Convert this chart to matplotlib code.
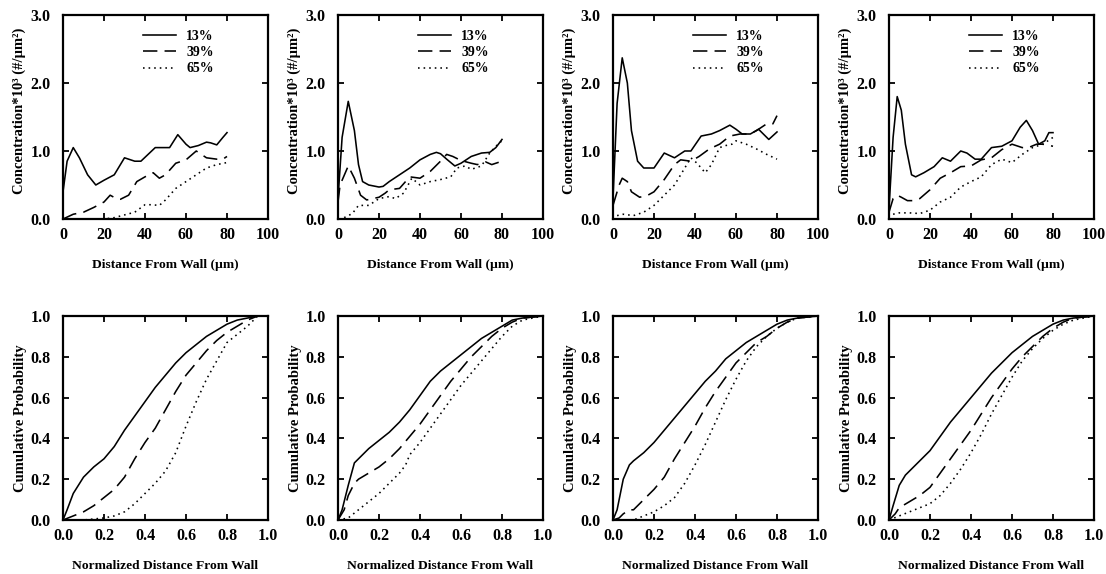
import matplotlib
matplotlib.use("Agg")
import matplotlib.pyplot as plt

plt.rcParams['font.family'] = ['Liberation Serif', 'DejaVu Serif']
plt.rcParams['font.weight'] = 'bold'

labels = ['13%', '39%', '65%']

# ---- concentration profiles (distance um, concentration*10^3) ----
c1_x13 = [0, 2, 5, 8, 12, 16, 20, 25, 30, 35, 38, 45, 52, 56, 60, 62, 66, 70, 72, 75, 78, 80]
c1_y13 = [0.4, 0.85, 1.05, 0.9, 0.65, 0.5, 0.57, 0.65, 0.9, 0.85, 0.85, 1.05, 1.05, 1.24, 1.1, 1.05, 1.08, 1.13, 1.12, 1.09, 1.2, 1.27]
c1_x39 = [0, 5, 10, 15, 20, 23, 26, 28, 32, 36, 40, 44, 47, 50, 55, 60, 65, 70, 75, 78, 80]
c1_y39 = [0, 0.07, 0.1, 0.17, 0.25, 0.35, 0.3, 0.29, 0.35, 0.55, 0.62, 0.68, 0.6, 0.65, 0.82, 0.87, 1.0, 0.9, 0.88, 0.88, 0.92]
c1_x65 = [0, 10, 20, 25, 30, 35, 40, 43, 47, 50, 55, 60, 65, 70, 75, 80]
c1_y65 = [0, 0, 0, 0.02, 0.06, 0.1, 0.21, 0.21, 0.2, 0.28, 0.45, 0.55, 0.65, 0.75, 0.8, 0.83]

c2_x13 = [0, 2, 5, 8, 10, 12, 15, 20, 22, 25, 30, 35, 40, 45, 48, 50, 53, 57, 60, 65, 70, 74, 77, 80]
c2_y13 = [0.3, 1.2, 1.73, 1.3, 0.8, 0.55, 0.5, 0.47, 0.48, 0.55, 0.65, 0.75, 0.87, 0.95, 0.98, 0.96, 0.88, 0.78, 0.82, 0.92, 0.97, 0.98, 1.05, 1.17]
c2_x39 = [0, 1, 5, 8, 11, 14, 20, 23, 25, 30, 35, 40, 45, 50, 53, 56, 60, 65, 68, 72, 75, 80]
c2_y39 = [0.25, 0.5, 0.78, 0.6, 0.35, 0.28, 0.32, 0.38, 0.43, 0.45, 0.62, 0.6, 0.7, 0.85, 0.95, 0.92, 0.86, 0.82, 0.8, 0.84, 0.8, 0.85]
c2_x65 = [3, 7, 10, 15, 20, 25, 28, 32, 36, 40, 45, 50, 55, 58, 62, 65, 70, 74, 78, 80]
c2_y65 = [0.02, 0.08, 0.2, 0.2, 0.3, 0.33, 0.3, 0.38, 0.6, 0.5, 0.55, 0.58, 0.62, 0.75, 0.78, 0.73, 0.78, 0.97, 1.1, 1.15]

c3_x13 = [0, 2, 4.5, 7, 9, 12, 15, 20, 25, 30, 35, 38, 43, 48, 52, 57, 60, 63, 67, 71, 76, 80]
c3_y13 = [0.3, 1.7, 2.37, 2.0, 1.3, 0.85, 0.75, 0.75, 0.97, 0.9, 1.0, 1.0, 1.22, 1.25, 1.3, 1.38, 1.32, 1.25, 1.25, 1.32, 1.17, 1.28]
c3_x39 = [0, 3, 4.5, 7, 9, 13, 17, 20, 25, 30, 33, 38, 42, 47, 52, 57, 62, 67, 70, 75, 78, 80]
c3_y39 = [0.2, 0.5, 0.6, 0.55, 0.4, 0.32, 0.35, 0.4, 0.58, 0.8, 0.87, 0.85, 0.92, 1.03, 1.1, 1.22, 1.25, 1.25, 1.3, 1.4, 1.4, 1.52]
c3_x65 = [2, 5, 10, 15, 20, 25, 30, 35, 38, 41, 45, 48, 52, 55, 58, 60, 65, 70, 75, 80]
c3_y65 = [0.05, 0.07, 0.05, 0.1, 0.2, 0.35, 0.5, 0.75, 0.9, 0.82, 0.68, 0.8, 1.05, 1.08, 1.1, 1.15, 1.1, 1.03, 0.95, 0.88]

c4_x13 = [0, 2, 4, 6, 8, 11, 13, 17, 22, 26, 30, 35, 38, 42, 45, 50, 55, 60, 64, 67, 70, 73, 76, 78, 80]
c4_y13 = [0.15, 1.2, 1.8, 1.6, 1.1, 0.65, 0.62, 0.68, 0.77, 0.9, 0.85, 1.0, 0.97, 0.88, 0.88, 1.05, 1.07, 1.15, 1.35, 1.45, 1.3, 1.1, 1.15, 1.27, 1.27]
c4_x39 = [0, 2, 4, 6, 9, 12, 15, 20, 25, 30, 35, 40, 45, 50, 55, 60, 65, 68, 72, 75, 80]
c4_y39 = [0.1, 0.3, 0.35, 0.32, 0.27, 0.27, 0.3, 0.43, 0.6, 0.68, 0.77, 0.78, 0.87, 0.9, 1.02, 1.1, 1.05, 1.05, 1.1, 1.1, 1.07]
c4_x65 = [2, 5, 10, 15, 20, 25, 30, 35, 40, 45, 50, 55, 60, 65, 70, 75, 80]
c4_y65 = [0.07, 0.09, 0.09, 0.08, 0.13, 0.25, 0.32, 0.47, 0.55, 0.62, 0.8, 0.88, 0.83, 0.95, 1.05, 1.1, 1.2]

# ---- cumulative probability (normalized distance) ----
p1_x13 = [0, 0.02, 0.05, 0.1, 0.15, 0.2, 0.25, 0.3, 0.35, 0.4, 0.45, 0.5, 0.55, 0.6, 0.65, 0.7, 0.75, 0.8, 0.85, 0.9, 0.95, 1.0]
p1_y13 = [0, 0.05, 0.13, 0.21, 0.26, 0.3, 0.36, 0.44, 0.51, 0.58, 0.65, 0.71, 0.77, 0.82, 0.86, 0.9, 0.93, 0.96, 0.98, 0.99, 1.0, 1.0]
p1_x39 = [0, 0.05, 0.1, 0.15, 0.2, 0.25, 0.3, 0.35, 0.4, 0.45, 0.5, 0.55, 0.6, 0.65, 0.7, 0.75, 0.8, 0.85, 0.9, 0.95, 1.0]
p1_y39 = [0, 0.02, 0.04, 0.07, 0.11, 0.15, 0.21, 0.3, 0.38, 0.45, 0.54, 0.63, 0.71, 0.77, 0.83, 0.88, 0.92, 0.95, 0.98, 1.0, 1.0]
p1_x65 = [0, 0.1, 0.2, 0.25, 0.3, 0.35, 0.4, 0.45, 0.5, 0.55, 0.6, 0.65, 0.7, 0.75, 0.8, 0.85, 0.9, 0.95, 1.0]
p1_y65 = [0, 0, 0.01, 0.02, 0.04, 0.08, 0.13, 0.18, 0.24, 0.33, 0.46, 0.58, 0.69, 0.78, 0.87, 0.91, 0.95, 1.0, 1.0]

p2_x13 = [0, 0.02, 0.05, 0.08, 0.1, 0.15, 0.2, 0.25, 0.3, 0.35, 0.4, 0.45, 0.5, 0.55, 0.6, 0.65, 0.7, 0.75, 0.8, 0.85, 0.9, 1.0]
p2_y13 = [0, 0.05, 0.17, 0.28, 0.3, 0.35, 0.39, 0.43, 0.48, 0.54, 0.61, 0.68, 0.73, 0.77, 0.81, 0.85, 0.89, 0.92, 0.95, 0.98, 0.99, 1.0]
p2_x39 = [0, 0.03, 0.05, 0.08, 0.1, 0.15, 0.2, 0.25, 0.3, 0.35, 0.4, 0.45, 0.5, 0.55, 0.6, 0.65, 0.7, 0.75, 0.8, 0.85, 0.9, 1.0]
p2_y39 = [0, 0.05, 0.12, 0.18, 0.2, 0.23, 0.26, 0.3, 0.35, 0.41, 0.47, 0.54, 0.61, 0.68, 0.74, 0.8, 0.85, 0.9, 0.94, 0.97, 0.99, 1.0]
p2_x65 = [0, 0.05, 0.1, 0.15, 0.2, 0.25, 0.3, 0.33, 0.35, 0.4, 0.45, 0.5, 0.55, 0.6, 0.65, 0.7, 0.75, 0.8, 0.85, 0.9, 1.0]
p2_y65 = [0, 0.01, 0.05, 0.09, 0.13, 0.18, 0.23, 0.27, 0.32, 0.38, 0.45, 0.52, 0.59, 0.66, 0.72, 0.78, 0.84, 0.9, 0.95, 0.98, 1.0]

p3_x13 = [0, 0.02, 0.05, 0.08, 0.1, 0.15, 0.2, 0.25, 0.3, 0.35, 0.4, 0.45, 0.5, 0.55, 0.6, 0.65, 0.7, 0.75, 0.8, 0.85, 0.9, 1.0]
p3_y13 = [0, 0.05, 0.2, 0.27, 0.29, 0.33, 0.38, 0.44, 0.5, 0.56, 0.62, 0.68, 0.73, 0.79, 0.83, 0.87, 0.9, 0.93, 0.96, 0.98, 0.99, 1.0]
p3_x39 = [0, 0.03, 0.05, 0.08, 0.1, 0.15, 0.2, 0.25, 0.3, 0.35, 0.4, 0.45, 0.5, 0.55, 0.6, 0.65, 0.7, 0.75, 0.8, 0.85, 0.9, 1.0]
p3_y39 = [0, 0.01, 0.03, 0.05, 0.05, 0.1, 0.15, 0.21, 0.3, 0.38, 0.46, 0.55, 0.63, 0.7, 0.77, 0.82, 0.87, 0.9, 0.94, 0.97, 0.99, 1.0]
p3_x65 = [0, 0.1, 0.15, 0.2, 0.25, 0.3, 0.35, 0.4, 0.45, 0.5, 0.55, 0.6, 0.65, 0.7, 0.75, 0.8, 0.85, 0.9, 1.0]
p3_y65 = [0, 0, 0.02, 0.04, 0.07, 0.11, 0.18, 0.27, 0.37, 0.48, 0.59, 0.69, 0.78, 0.85, 0.9, 0.94, 0.97, 0.99, 1.0]

p4_x13 = [0, 0.02, 0.05, 0.08, 0.1, 0.15, 0.2, 0.25, 0.3, 0.35, 0.4, 0.45, 0.5, 0.55, 0.6, 0.65, 0.7, 0.75, 0.8, 0.85, 0.9, 1.0]
p4_y13 = [0, 0.07, 0.17, 0.22, 0.24, 0.29, 0.34, 0.41, 0.48, 0.54, 0.6, 0.66, 0.72, 0.77, 0.82, 0.86, 0.9, 0.93, 0.96, 0.98, 0.99, 1.0]
p4_x39 = [0, 0.03, 0.05, 0.1, 0.15, 0.2, 0.25, 0.3, 0.35, 0.4, 0.45, 0.5, 0.55, 0.6, 0.65, 0.7, 0.75, 0.8, 0.85, 0.9, 1.0]
p4_y39 = [0, 0.03, 0.06, 0.09, 0.12, 0.16, 0.23, 0.3, 0.37, 0.44, 0.52, 0.6, 0.67, 0.74, 0.8, 0.85, 0.9, 0.94, 0.97, 0.99, 1.0]
p4_x65 = [0, 0.05, 0.1, 0.15, 0.2, 0.25, 0.3, 0.35, 0.4, 0.45, 0.5, 0.55, 0.6, 0.65, 0.7, 0.75, 0.8, 0.85, 0.9, 1.0]
p4_y65 = [0, 0.02, 0.04, 0.06, 0.08, 0.12, 0.18, 0.25, 0.33, 0.42, 0.52, 0.61, 0.7, 0.78, 0.84, 0.89, 0.93, 0.96, 0.98, 1.0]

conc = [
    [(c1_x13, c1_y13), (c1_x39, c1_y39), (c1_x65, c1_y65)],
    [(c2_x13, c2_y13), (c2_x39, c2_y39), (c2_x65, c2_y65)],
    [(c3_x13, c3_y13), (c3_x39, c3_y39), (c3_x65, c3_y65)],
    [(c4_x13, c4_y13), (c4_x39, c4_y39), (c4_x65, c4_y65)],
]
cum = [
    [(p1_x13, p1_y13), (p1_x39, p1_y39), (p1_x65, p1_y65)],
    [(p2_x13, p2_y13), (p2_x39, p2_y39), (p2_x65, p2_y65)],
    [(p3_x13, p3_y13), (p3_x39, p3_y39), (p3_x65, p3_y65)],
    [(p4_x13, p4_y13), (p4_x39, p4_y39), (p4_x65, p4_y65)],
]

styles = [dict(ls='-'), dict(ls=(0, (9, 4.5))), dict(ls=(0, (1, 2.5)))]

W, H = 1106, 574
fig = plt.figure(figsize=(W / 100, H / 100), dpi=100)
lefts = [63, 338, 613, 889]
aw, ah = 205, 204


def style_axes(ax):
    for s in ax.spines.values():
        s.set_linewidth(1.6)
    ax.tick_params(direction='in', top=True, right=True, length=4, width=1.3,
                   labelsize=11.5)
    ax.tick_params(axis='y', pad=9)
    ax.tick_params(axis='x', pad=6)
    for lab in ax.get_xticklabels() + ax.get_yticklabels():
        lab.set_fontweight('bold')


for i in range(4):
    # top row: concentration
    ax = fig.add_axes([lefts[i] / W, (H - 219) / H, aw / W, ah / H])
    for (x, y), st, lab in zip(conc[i], styles, labels):
        ax.plot(x, y, color='black', lw=1.15, label=lab, **st)
    ax.set_xlim(0, 100)
    ax.set_ylim(0, 3.0)
    ax.set_xticks([0, 20, 40, 60, 80, 100])
    ax.set_yticks([0, 1, 2, 3])
    ax.set_yticklabels(['0.0', '1.0', '2.0', '3.0'])
    ax.set_xlabel('Distance From Wall (µm)', fontsize=9.7, fontweight='bold', labelpad=11)
    ax.set_ylabel('Concentration*10³ (#/µm²)', fontsize=10.5, fontweight='bold')
    ax.yaxis.set_label_coords(-0.18, 0.53)
    style_axes(ax)
    ax.legend(loc='upper left', bbox_to_anchor=(0.33, 0.99), frameon=False,
              handlelength=2.4, handletextpad=0.7, labelspacing=0.25,
              prop={'size': 10, 'weight': 'bold'})

    # bottom row: cumulative probability
    ax = fig.add_axes([lefts[i] / W, (H - 520) / H, aw / W, ah / H])
    for (x, y), st in zip(cum[i], styles):
        ax.plot(x, y, color='black', lw=1.15, **st)
    ax.set_xlim(0, 1)
    ax.set_ylim(0, 1)
    ticks = [0, 0.2, 0.4, 0.6, 0.8, 1.0]
    ax.set_xticks(ticks)
    ax.set_yticks(ticks)
    ax.set_xticklabels(['%.1f' % t for t in ticks])
    ax.set_yticklabels(['%.1f' % t for t in ticks])
    ax.set_xlabel('Normalized Distance From Wall', fontsize=9.7, fontweight='bold', labelpad=11)
    ax.set_ylabel('Cumulative Probability', fontsize=10.5, fontweight='bold')
    ax.yaxis.set_label_coords(-0.175, 0.5)
    style_axes(ax)

fig.savefig('out.png', dpi=100)
